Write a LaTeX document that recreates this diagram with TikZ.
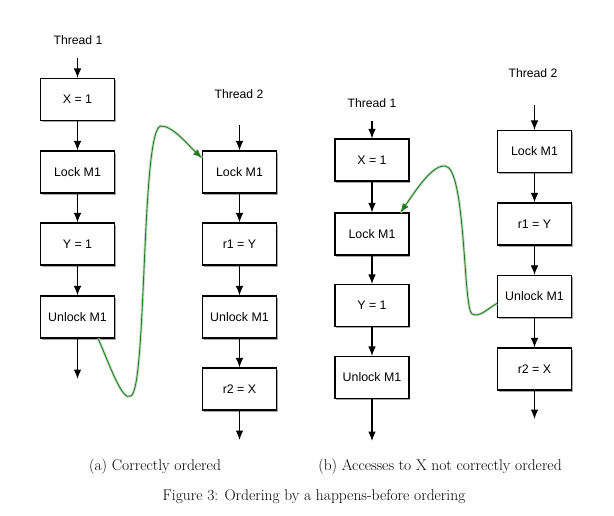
\documentclass[tikz,border=0pt]{standalone}
\usepackage{fontspec}
\setmainfont{Latin Modern Roman}
\newfontfamily\boxfont{Liberation Sans}
\usetikzlibrary{arrows.meta,shadows}
\definecolor{hbgreen}{RGB}{35,125,35}
\tikzset{
  opbox/.style={draw=black, line width=1.1pt, fill=white, minimum width=74pt, minimum height=42pt,
    inner sep=0pt, font=\boxfont\fontsize{12.4}{14}\selectfont,
    drop shadow={shadow xshift=1.3pt, shadow yshift=-1.8pt, opacity=0.35, fill=black}},
  thlabel/.style={font=\boxfont\fontsize{12.2}{14}\selectfont, inner sep=0pt},
  flow/.style={line width=1.1pt, -{Latex[length=9.5pt,width=7.5pt]}},
  hb/.style={draw=hbgreen, line width=0.9pt, -{Latex[length=9pt,width=7pt]},
    preaction={draw=hbgreen!25, line width=2.8pt, -}},
  captext/.style={font=\fontsize{15.5}{18}\selectfont, inner sep=0pt}
}
\begin{document}
\begin{tikzpicture}[x=1pt,y=-1pt]
\useasboundingbox[fill=white] (0,0) rectangle (614,516);
% (a) Thread 1
\node[thlabel] (ta1) at (78,40) {Thread 1};
\node[opbox] (xa) at (77.5,99.5) {X = 1};
\node[opbox] (la1) at (77.5,172) {Lock M1};
\node[opbox] (ya) at (77.5,244) {Y = 1};
\node[opbox] (ua1) at (77.5,317) {Unlock M1};
\coordinate (ina1) at (77.5,58);
\coordinate (outa1) at (77.5,379);
\draw[flow] (ina1) -- (xa);
\draw[flow] (xa) -- (la1);
\draw[flow] (la1) -- (ya);
\draw[flow] (ya) -- (ua1);
\draw[flow] (ua1) -- (outa1);
% (a) Thread 2
\node[thlabel] (ta2) at (239,94) {Thread 2};
\node[opbox] (la2) at (239.5,172) {Lock M1};
\node[opbox] (ra1) at (239.5,244) {r1 = Y};
\node[opbox] (ua2) at (239.5,317) {Unlock M1};
\node[opbox] (ra2) at (239.5,389) {r2 = X};
\coordinate (ina2) at (239.5,125);
\coordinate (outa2) at (239.5,440);
\draw[flow] (ina2) -- (la2);
\draw[flow] (la2) -- (ra1);
\draw[flow] (ra1) -- (ua2);
\draw[flow] (ua2) -- (ra2);
\draw[flow] (ra2) -- (outa2);
% (a) happens-before
\coordinate (hba0) at ([xshift=-17pt]ua1.south east);
\coordinate (hba1) at ([yshift=14pt]la2.west);
\draw[hb] (hba0) .. controls (110,365) and (122,402) .. (131,396)
  .. controls (147,388) and (141,127) .. (161,126)
  .. controls (173,126) and (188,145) .. (hba1);
% (b) Thread 1
\node[thlabel] (tb1) at (372,103) {Thread 1};
\node[opbox] (xb) at (372,160) {X = 1};
\node[opbox] (lb1) at (372,234) {Lock M1};
\node[opbox] (yb) at (372,305.5) {Y = 1};
\node[opbox] (ub1) at (372,377.5) {Unlock M1};
\coordinate (inb1) at (372,121);
\coordinate (outb1) at (372,441);
\draw[flow] (inb1) -- (xb);
\draw[flow] (xb) -- (lb1);
\draw[flow] (lb1) -- (yb);
\draw[flow] (yb) -- (ub1);
\draw[flow] (ub1) -- (outb1);
% (b) Thread 2
\node[thlabel] (tb2) at (533,73) {Thread 2};
\node[opbox] (lb2) at (534.5,151.5) {Lock M1};
\node[opbox] (rb1) at (534.5,224) {r1 = Y};
\node[opbox] (ub2) at (534.5,296.5) {Unlock M1};
\node[opbox] (rb2) at (534.5,369) {r2 = X};
\coordinate (inb2) at (534.5,105);
\coordinate (outb2) at (534.5,419);
\draw[flow] (inb2) -- (lb2);
\draw[flow] (lb2) -- (rb1);
\draw[flow] (rb1) -- (ub2);
\draw[flow] (ub2) -- (rb2);
\draw[flow] (rb2) -- (outb2);
% (b) happens-before
\coordinate (hbb0) at ([yshift=-7pt]ub2.west);
\coordinate (hbb1) at ([xshift=-9pt]lb1.north east);
\draw[hb] (hbb0) .. controls (488,308) and (480,318) .. (472,314)
  .. controls (463,308) and (466,167) .. (445,166)
  .. controls (432,165) and (416,190) .. (hbb1);
% captions
\node[captext] (capa) at (155,467) {(a) Correctly ordered};
\node[captext] (capb) at (440,467) {(b) Accesses to X not correctly ordered};
\node[captext] (fig) at (314,497) {Figure 3: Ordering by a happens-before ordering};
\end{tikzpicture}
\end{document}
